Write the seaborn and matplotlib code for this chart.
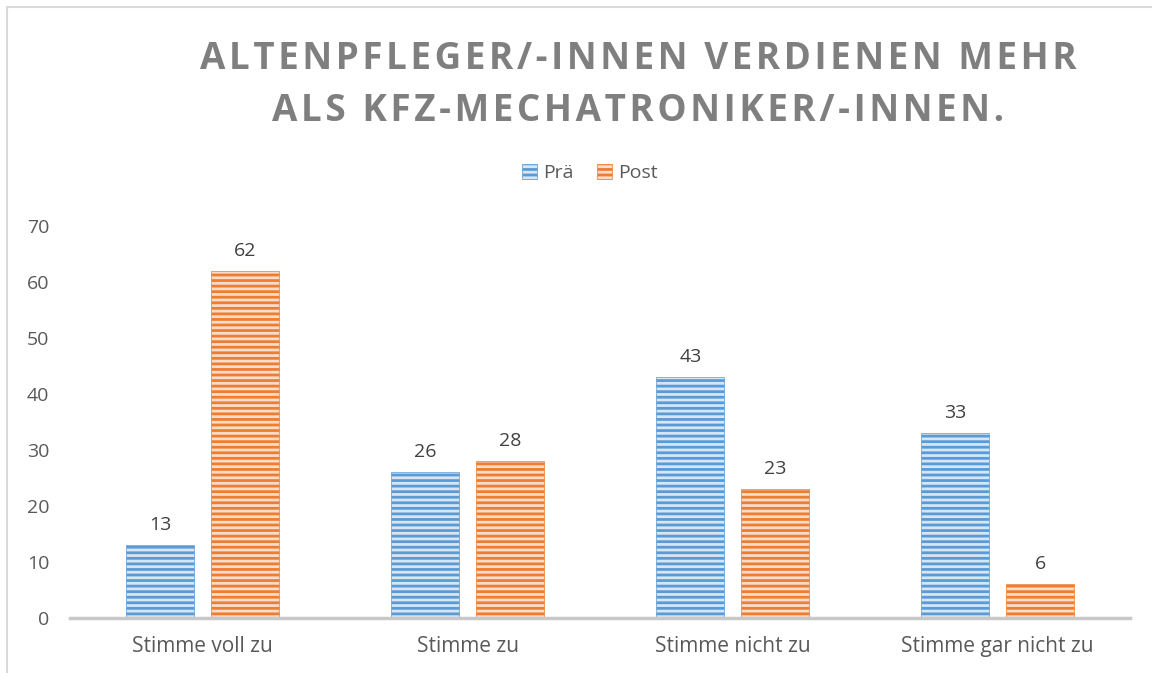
import matplotlib
matplotlib.use("Agg")
import matplotlib.pyplot as plt
from matplotlib.patches import Patch, Rectangle
import pandas as pd
import seaborn as sns

# chart values
categories = ["Stimme voll zu", "Stimme zu", "Stimme nicht zu", "Stimme gar nicht zu"]
pre_values = [13, 26, 43, 33]
post_values = [62, 28, 23, 6]
series = ["Prä", "Post"]
title_lines = ["ALTENPFLEGER/-INNEN VERDIENEN MEHR", "ALS KFZ-MECHATRONIKER/-INNEN."]

df = pd.DataFrame({
    "Kategorie": categories * 2,
    "Wert": pre_values + post_values,
    "Gruppe": [series[0]] * 4 + [series[1]] * 4,
})

sns.set_theme(style="white")
plt.rcParams["font.family"] = ["Open Sans", "DejaVu Sans"]
plt.rcParams["hatch.linewidth"] = 2.0

dark = ["#5b9bd5", "#ed7d31"]
light = ["#d6e6f5", "#fbdcc8"]

fig = plt.figure(figsize=(11.52, 6.73), dpi=100)
ax = fig.add_axes([0.061, 0.0817, 0.92, 0.5823])

sns.barplot(data=df, x="Kategorie", y="Wert", hue="Gruppe", palette=dark,
            width=0.64, gap=0.2, ax=ax, legend=False)

for cont, dc, lc in zip(ax.containers, dark, light):
    for bar in cont:
        bar.set_facecolor(lc)
        bar.set_edgecolor(dc)
        bar.set_hatch("---")
        bar.set_linewidth(0.5)
    ax.bar_label(cont, fmt="%d", padding=8, fontsize=14, color="#404040")

ax.set_xlim(-0.5, 3.5)
ax.set_ylim(0, 70)
ax.set_yticks(range(0, 71, 10))
ax.set_xlabel("")
ax.set_ylabel("")
ax.tick_params(axis="x", labelsize=15, labelcolor="#595959", length=0, pad=13)
ax.tick_params(axis="y", labelsize=14, labelcolor="#595959", length=0, pad=15)
for s in ["left", "right", "top"]:
    ax.spines[s].set_visible(False)
ax.spines["bottom"].set_color("#c8c8c8")
ax.spines["bottom"].set_linewidth(2.5)

handles = [Patch(facecolor=lc, edgecolor=dc, hatch="---", linewidth=0.5, label=s)
           for s, dc, lc in zip(series, dark, light)]
fig.legend(handles=handles, loc="center", bbox_to_anchor=(0.512, 0.743), ncol=2,
           frameon=False, fontsize=14, handlelength=0.8, handleheight=0.8,
           handletextpad=0.3, columnspacing=1.2, labelcolor="#595959")

# spaced-out title
sp = "\u200a"
for i, line in enumerate(title_lines):
    fig.text(0.554, 1 - (59 + 52 * i) / 673, sp.join(line), ha="center", va="center",
             fontsize=26.5, fontweight="bold", color="#7f7f7f")

# chart border
fig.patches.append(Rectangle((7 / 1152, -0.05), 1.1, 1 - 7 / 673 + 0.05,
                             transform=fig.transFigure, fill=False,
                             edgecolor="#d9d9d9", linewidth=1.5))

fig.savefig("out.png", dpi=100)
